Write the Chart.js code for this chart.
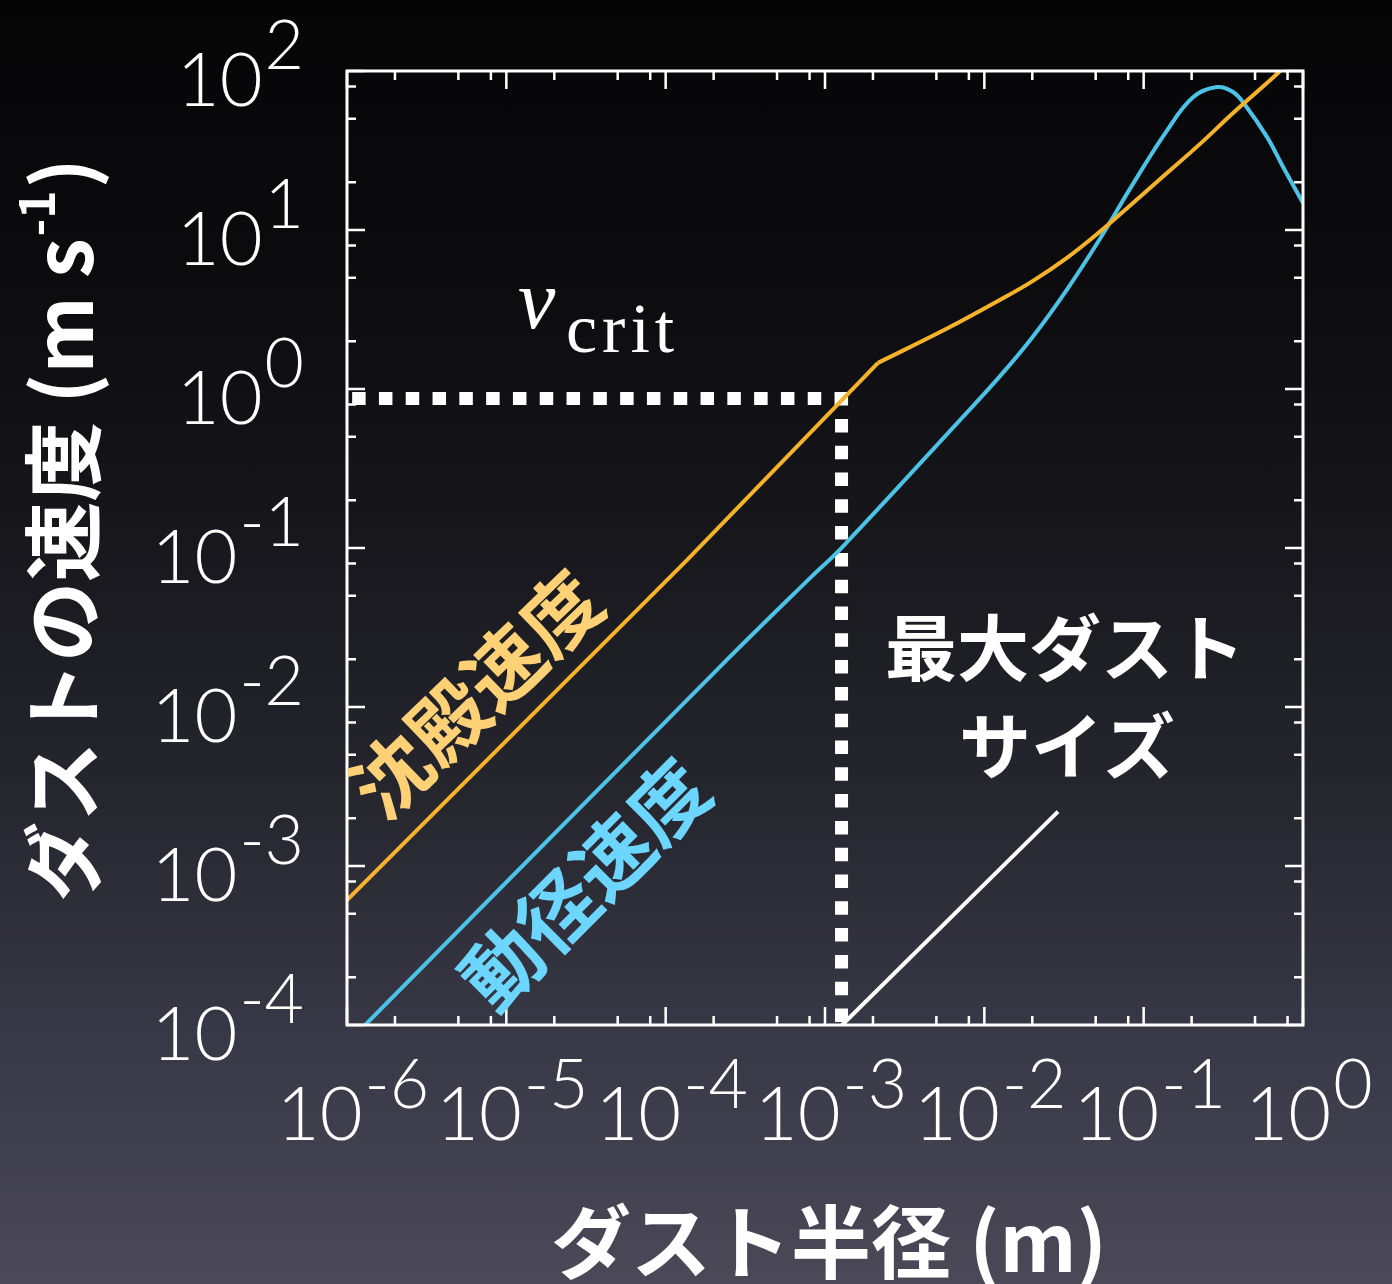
<!DOCTYPE html>
<html lang="ja">
<head>
<meta charset="utf-8">
<title>ダストの速度</title>
<script src="https://cdn.jsdelivr.net/npm/chart.js@4.4.1/dist/chart.umd.min.js"></script>
<style>
  html, body { margin: 0; padding: 0; }
  body {
    width: 1392px;
    height: 1284px;
    overflow: hidden;
    background: linear-gradient(to bottom, #050506 0%, #0c0c0f 22%, #17171c 42%, #26262f 62%, #383745 80%, #4b4958 100%);
  }
  #myChart { display: block; }
</style>
</head>
<body>
<canvas id="myChart" width="1392" height="1284"></canvas>
<script>
'use strict'
// ==> data: dust radius (m) / velocity (m s^-1)
let settleLowR = [1e-6, 1.36e-4, 2.15e-3];
let settleLowV = [6.1e-4, 0.084, 1.46];
let settleHighR = [2.15e-3, 5.83e-3, 0.0125, 0.0202, 0.033, 0.0532, 0.0857, 0.140, 0.226, 0.364, 0.594, 0.718];
let settleHighV = [1.46, 2.40, 3.63, 4.79, 6.68, 9.77, 14.8, 22.8, 34.8, 54.5, 84.1, 100];
let driftR = [1.3e-6, 2.19e-4, 8.05e-4, 1.28e-3, 7.03e-3, 0.0125, 0.0202, 0.033, 0.0532, 0.0857, 0.140, 0.204, 0.288, 0.364, 0.433, 0.594, 0.750, 1.0];
let driftV = [1e-4, 0.0179, 0.0647, 0.101, 0.638, 1.20, 2.14, 4.22, 8.81, 19.5, 42.2, 68.4, 79.3, 73.8, 61.1, 38.5, 24.9, 14.8];
let critV = 0.87;          // v_crit
let maxSizeR = 1.27e-3;    // radius where settling speed reaches v_crit
let pointerR = [1.28e-3, 0.029];
let pointerV = [1e-4, 2.2e-3];
let xTickExps = [-6, -5, -4, -3, -2, -1, 0];
let yTickExps = [-4, -3, -2, -1, 0, 1, 2];
let minorSteps = [2, 5, 8];
//__________________________________________________________________________________==<

let orange = '#f6b32a';
let blue = '#4cc2e6';
let numFont = 'Lato, "Open Sans", sans-serif';
let jpFont = '"Noto Sans CJK JP", "Noto Sans", sans-serif';

function toPoints(xs, ys) {
    let pts = [];
    for (let i = 0; i < xs.length; i++) {
        pts.push({ x: xs[i], y: ys[i] });
    }
    return pts;
}

function expText(e) {
    return e < 0 ? '-' + (-e) : String(e);
}

// "10" with a large raised exponent
function drawPower(ctx, e, left, baseY, supY) {
    ctx.font = '300 74px ' + numFont;
    ctx.fillText('10', left, baseY);
    let wb = ctx.measureText('10').width;
    ctx.font = '300 68px ' + numFont;
    ctx.fillText(expText(e), left + wb + 2, supY);
}

function powerWidth(ctx, e) {
    ctx.font = '300 74px ' + numFont;
    let wb = ctx.measureText('10').width;
    ctx.font = '300 68px ' + numFont;
    return wb + 2 + ctx.measureText(expText(e)).width;
}

let decorPlugin = {
    id: 'decor',
    afterDatasetsDraw(chart) {
        let ctx = chart.ctx;
        let area = chart.chartArea;
        let xs = chart.scales.x;
        let ys = chart.scales.y;
        ctx.save();

        // frame
        ctx.strokeStyle = '#ffffff';
        ctx.lineWidth = 3;
        ctx.strokeRect(area.left, area.top, area.right - area.left, area.bottom - area.top);

        // inward ticks on all four sides
        ctx.lineWidth = 2.5;
        ctx.beginPath();
        for (let i = 0; i < xTickExps.length; i++) {
            let base = Math.pow(10, xTickExps[i]);
            let px = xs.getPixelForValue(base);
            ctx.moveTo(px, area.bottom); ctx.lineTo(px, area.bottom - 18);
            ctx.moveTo(px, area.top); ctx.lineTo(px, area.top + 18);
            if (i < xTickExps.length - 1) {
                for (let m of minorSteps) {
                    let mx = xs.getPixelForValue(m * base);
                    ctx.moveTo(mx, area.bottom); ctx.lineTo(mx, area.bottom - 9);
                    ctx.moveTo(mx, area.top); ctx.lineTo(mx, area.top + 9);
                }
            }
        }
        for (let i = 0; i < yTickExps.length; i++) {
            let base = Math.pow(10, yTickExps[i]);
            let py = ys.getPixelForValue(base);
            ctx.moveTo(area.left, py); ctx.lineTo(area.left + 18, py);
            ctx.moveTo(area.right, py); ctx.lineTo(area.right - 18, py);
            if (i < yTickExps.length - 1) {
                for (let m of minorSteps) {
                    let my = ys.getPixelForValue(m * base);
                    ctx.moveTo(area.left, my); ctx.lineTo(area.left + 9, my);
                    ctx.moveTo(area.right, my); ctx.lineTo(area.right - 9, my);
                }
            }
        }
        ctx.stroke();

        // tick labels
        ctx.fillStyle = '#ffffff';
        ctx.textAlign = 'left';
        ctx.textBaseline = 'alphabetic';
        for (let e of xTickExps) {
            let px = xs.getPixelForValue(Math.pow(10, e));
            let w = powerWidth(ctx, e);
            drawPower(ctx, e, px + 6 - w / 2, area.bottom + 115, area.bottom + 83);
        }
        for (let e of yTickExps) {
            let py = ys.getPixelForValue(Math.pow(10, e));
            let w = powerWidth(ctx, e);
            drawPower(ctx, e, 304 - w, py + 35, py - 2);
        }

        // axis titles
        ctx.textBaseline = 'middle';
        ctx.textAlign = 'center';
        ctx.font = 'bold 80px ' + jpFont;
        ctx.fillText('ダスト半径 (m)', (area.left + area.right) / 2 + 4, 1242);

        ctx.save();
        ctx.translate(63, 532);
        ctx.rotate(-Math.PI / 2);
        ctx.textAlign = 'left';
        ctx.font = 'bold 80px ' + jpFont;
        let t1 = 'ダストの速度 (m s';
        let w1 = ctx.measureText(t1).width;
        ctx.font = 'bold 48px ' + jpFont;
        let w2 = ctx.measureText('-1').width;
        ctx.font = 'bold 80px ' + jpFont;
        let w3 = ctx.measureText(')').width;
        let start = -(w1 + w2 + w3) / 2;
        ctx.fillText(t1, start, 0);
        ctx.font = 'bold 48px ' + jpFont;
        ctx.fillText('-1', start + w1 + 2, -26);
        ctx.font = 'bold 80px ' + jpFont;
        ctx.fillText(')', start + w1 + w2 + 4, 0);
        ctx.restore();

        // curve labels
        ctx.save();
        ctx.translate(476, 694);
        ctx.rotate(-44 * Math.PI / 180);
        ctx.fillStyle = '#ffd176';
        ctx.font = 'bold 78px ' + jpFont;
        ctx.fillText('沈殿速度', 0, 0);
        ctx.restore();

        ctx.save();
        ctx.translate(585, 884);
        ctx.rotate(-45 * Math.PI / 180);
        ctx.fillStyle = '#6dd6fe';
        ctx.font = 'bold 78px ' + jpFont;
        ctx.fillText('動径速度', 0, 0);
        ctx.restore();

        ctx.fillStyle = '#ffffff';
        ctx.font = 'bold 72px ' + jpFont;
        ctx.fillText('最大ダスト', 1065, 648);
        ctx.fillText('サイズ', 1067, 746);

        // v_crit
        ctx.textAlign = 'left';
        ctx.textBaseline = 'alphabetic';
        ctx.font = 'italic 84px "Liberation Serif", serif';
        ctx.fillText('v', 518, 328);
        ctx.font = '70px "Liberation Serif", serif';
        ctx.letterSpacing = '5px';
        ctx.fillText('crit', 566, 352);
        ctx.letterSpacing = '0px';

        ctx.restore();
    }
};

let ctx = document.getElementById('myChart').getContext('2d');
let myChart = new Chart(ctx, {
    type: 'line',
    data: {
        datasets: [{
            label: '沈殿速度',
            data: toPoints(settleLowR, settleLowV),
            borderColor: orange,
            borderWidth: 4,
            tension: 0
        }, {
            label: '沈殿速度',
            data: toPoints(settleHighR, settleHighV),
            borderColor: orange,
            borderWidth: 4,
            tension: 0.4
        }, {
            label: '動径速度',
            data: toPoints(driftR, driftV),
            borderColor: blue,
            borderWidth: 4,
            tension: 0.4
        }, {
            // dotted v_crit level, drawn out from the corner
            label: 'vcrit',
            data: [{ x: maxSizeR, y: critV }, { x: 1e-6, y: critV }],
            borderColor: '#ffffff',
            borderWidth: 13,
            borderDash: [0.5, 26.3],
            borderCapStyle: 'square'
        }, {
            label: 'max size',
            data: [{ x: maxSizeR, y: critV }, { x: maxSizeR, y: 1e-4 }],
            borderColor: '#ffffff',
            borderWidth: 13,
            borderDash: [0.5, 26.3],
            borderCapStyle: 'square'
        }, {
            label: 'pointer',
            data: toPoints(pointerR, pointerV),
            borderColor: '#ffffff',
            borderWidth: 4
        }]
    },
    options: {
        responsive: false,
        animation: false,
        layout: {
            padding: { left: 347, right: 89, top: 71, bottom: 259 }
        },
        elements: {
            point: { radius: 0 }
        },
        plugins: {
            legend: { display: false },
            tooltip: { enabled: false }
        },
        scales: {
            x: { type: 'logarithmic', min: 1e-6, max: 1, display: false },
            y: { type: 'logarithmic', min: 1e-4, max: 100, display: false }
        }
    },
    plugins: [decorPlugin]
});
//__________________________________________________________________________________________END==<
</script>
</body>
</html>
